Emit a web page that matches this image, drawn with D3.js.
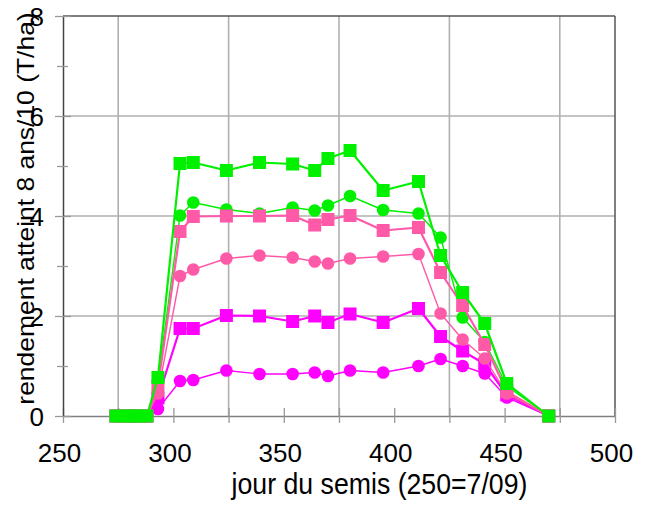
<!DOCTYPE html>
<html>
<head>
<meta charset="utf-8">
<script src="https://cdn.jsdelivr.net/npm/d3@7"></script>
<style>
  html, body { margin: 0; padding: 0; background: #fff; }
  svg { display: block; font-family: "Liberation Sans", Arial, sans-serif; }
</style>
</head>
<body>
<svg id="chart" width="646" height="505"></svg>
<script>
// Sowing day (250 = 7 September)
const days = [274, 278, 281, 284, 288, 293, 303, 309, 324, 339, 354, 364, 370, 380, 395, 411, 421, 431, 441, 451, 470];

// Yield reached 8 years out of 10 (T/ha)
const greenSquares  = [0, 0, 0, 0, 0, 0.77, 5.05, 5.07, 4.91, 5.07, 5.04, 4.91, 5.15, 5.31, 4.51, 4.69, 3.21, 2.47, 1.85, 0.65, 0];
const greenCircles  = [0, 0, 0, 0, 0, 0.70, 4.01, 4.27, 4.13, 4.05, 4.17, 4.11, 4.21, 4.40, 4.12, 4.05, 3.57, 1.97, 1.48, 0.60, 0];
const pinkSquares   = [0, 0, 0, 0, 0, 0.59, 3.69, 3.99, 4.00, 4.00, 4.01, 3.82, 3.93, 4.01, 3.71, 3.77, 2.87, 2.21, 1.43, 0.49, 0];
const pinkCircles   = [0, 0, 0, 0, 0, 0.45, 2.80, 2.93, 3.15, 3.21, 3.17, 3.09, 3.05, 3.15, 3.19, 3.24, 2.05, 1.53, 1.15, 0.45, 0];
const magentaSquares = [0, 0, 0, 0, 0, 0.36, 1.75, 1.75, 2.01, 2.00, 1.89, 2.00, 1.87, 2.04, 1.87, 2.15, 1.59, 1.30, 1.04, 0.42, 0];
const magentaCircles = [0, 0, 0, 0, 0, 0.14, 0.70, 0.72, 0.91, 0.84, 0.84, 0.87, 0.80, 0.91, 0.87, 1.00, 1.14, 1.00, 0.85, 0.37, 0];

const xTickLabels = [250, 300, 350, 400, 450, 500];
const yTickLabels = [0, 2, 4, 6, 8];
const xTitle = "jour du semis (250=7/09)";
const yTitle = "rendement atteint 8 ans/10 (T/ha)";

// Drawing order, bottom to top
const series = [
  { values: magentaCircles, color: "#ff00ff", shape: "circle", width: 1.4 },
  { values: magentaSquares, color: "#ff00ff", shape: "square", width: 2.2 },
  { values: pinkCircles,    color: "#ff5aa8", shape: "circle", width: 1.4 },
  { values: greenCircles,   color: "#00f000", shape: "circle", width: 1.4 },
  { values: pinkSquares,    color: "#ff5aa8", shape: "square", width: 2.2 },
  { values: greenSquares,   color: "#00f000", shape: "square", width: 2.2 }
];

const svg = d3.select("#chart");
const plotLeft = 63, plotRight = 615, plotTop = 16, plotBottom = 416;

const x = d3.scaleLinear().domain([250, 500]).range([plotLeft, plotRight]);
const y = d3.scaleLinear().domain([0, 8]).range([plotBottom, plotTop]);

// Grid lines
const gridColor = "#b0b0b0";
svg.append("g").selectAll("line")
  .data([275, 325, 375, 425, 475]).join("line")
  .attr("x1", d => x(d)).attr("x2", d => x(d))
  .attr("y1", plotTop).attr("y2", plotBottom)
  .attr("stroke", gridColor).attr("stroke-width", 1.6);
svg.append("g").selectAll("line")
  .data([2, 4, 6]).join("line")
  .attr("x1", plotLeft).attr("x2", plotRight)
  .attr("y1", d => y(d)).attr("y2", d => y(d))
  .attr("stroke", gridColor).attr("stroke-width", 1.6);

// Frame
svg.append("line").attr("x1", plotLeft).attr("x2", plotRight).attr("y1", plotTop).attr("y2", plotTop)
  .attr("stroke", "#555").attr("stroke-width", 1.5);
svg.append("line").attr("x1", plotRight).attr("x2", plotRight).attr("y1", plotTop).attr("y2", plotBottom)
  .attr("stroke", "#555").attr("stroke-width", 1.5);

// X axis
const xAxis = d3.axisBottom(x)
  .tickValues(d3.range(250, 501, 25))
  .tickSizeInner(0).tickSizeOuter(0)
  .tickFormat(d => xTickLabels.includes(d) ? d : "");
const gx = svg.append("g").attr("transform", `translate(0,${plotBottom})`).call(xAxis);
gx.select(".domain").attr("stroke", "#808080").attr("stroke-width", 1.5);
gx.selectAll(".tick line").attr("y1", -8).attr("y2", 7).attr("stroke", "#999").attr("stroke-width", 1.3);
gx.selectAll(".tick text")
  .attr("y", 0).attr("dy", 0)
  .attr("transform", "translate(-4,45.5)")
  .attr("font-size", 26).attr("fill", "#000")
  .attr("font-family", "Liberation Sans, Arial, sans-serif");

// Y axis
const yAxis = d3.axisLeft(y)
  .tickValues(d3.range(0, 9, 1))
  .tickSizeInner(0).tickSizeOuter(0)
  .tickFormat(d => yTickLabels.includes(d) ? d : "");
const gy = svg.append("g").attr("transform", `translate(${plotLeft},0)`).call(yAxis);
gy.select(".domain").attr("stroke", "#444").attr("stroke-width", 1.5);
gy.selectAll(".tick line")
  .attr("x1", d => d % 2 === 0 ? -8 : -6)
  .attr("x2", d => d % 2 === 0 ? 8 : 5)
  .attr("stroke", "#999").attr("stroke-width", 1.3);
gy.selectAll(".tick text")
  .attr("x", -19).attr("dy", "0.36em")
  .attr("font-size", 26).attr("fill", "#000")
  .attr("font-family", "Liberation Sans, Arial, sans-serif");

// Data lines and markers
const line = d3.line().x((d, i) => x(days[i])).y(d => y(d));
const sq = 13, r = 6.3;
series.forEach(s => {
  const g = svg.append("g");
  g.append("path").datum(s.values)
    .attr("d", line).attr("fill", "none")
    .attr("stroke", s.color).attr("stroke-width", s.width)
    .attr("stroke-linejoin", "round");
  if (s.shape === "square") {
    g.selectAll("rect").data(s.values).join("rect")
      .attr("x", (d, i) => x(days[i]) - sq / 2)
      .attr("y", d => y(d) - sq / 2)
      .attr("width", sq).attr("height", sq)
      .attr("fill", s.color);
  } else {
    g.selectAll("circle").data(s.values).join("circle")
      .attr("cx", (d, i) => x(days[i]))
      .attr("cy", d => y(d))
      .attr("r", r).attr("fill", s.color);
  }
});

// Axis titles
svg.append("text")
  .attr("transform", "translate(379.5,494) scale(0.89,1)")
  .attr("text-anchor", "middle")
  .attr("font-size", 30).attr("fill", "#000")
  .text(xTitle);

svg.append("text")
  .attr("transform", "translate(33.5,208.5) rotate(-90) scale(1.15,1)")
  .attr("text-anchor", "middle")
  .attr("font-size", 23).attr("fill", "#000")
  .text(yTitle);
</script>
</body>
</html>
